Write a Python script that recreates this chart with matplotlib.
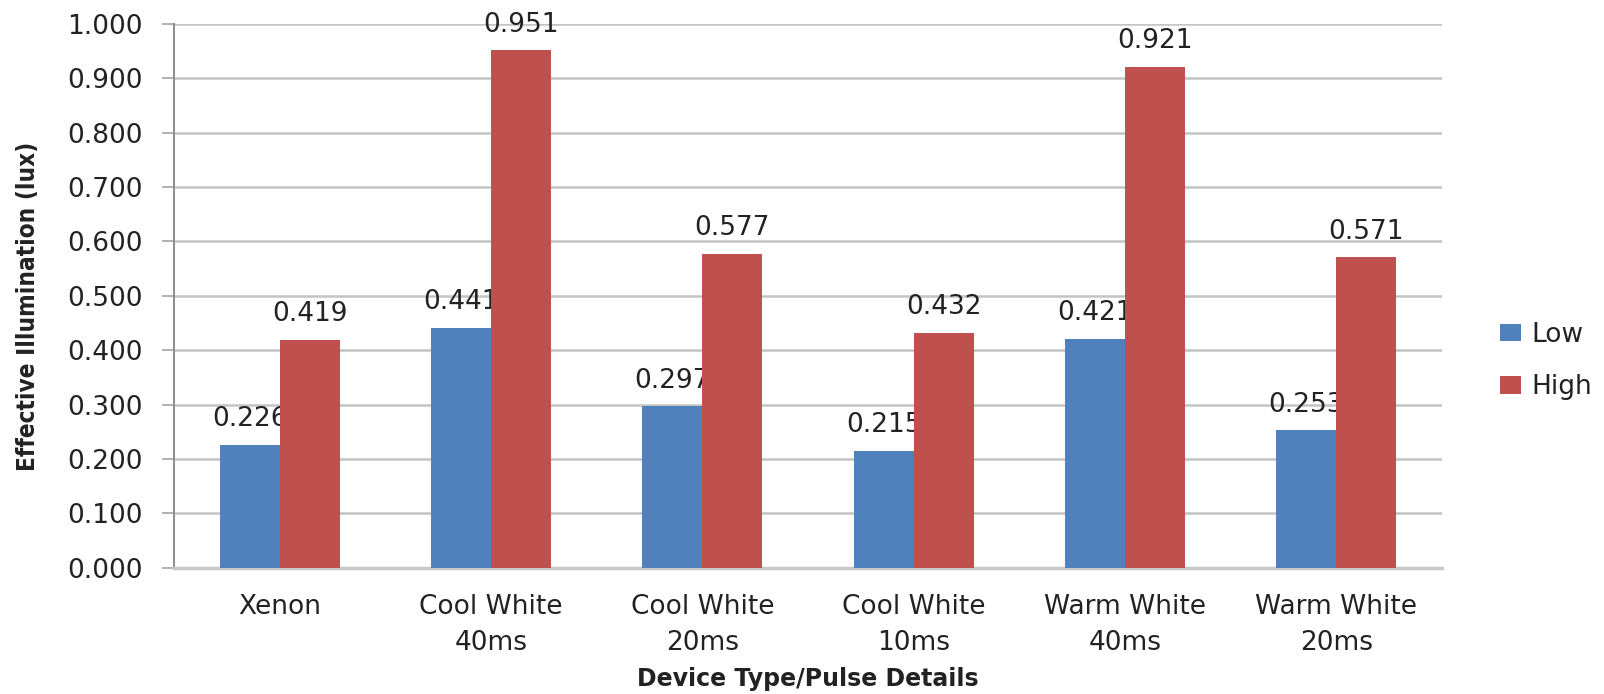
import numpy as np
import matplotlib
matplotlib.use("Agg")
import matplotlib.pyplot as plt

categories = ["Xenon", "Cool White\n40ms", "Cool White\n20ms", "Cool White\n10ms",
              "Warm White\n40ms", "Warm White\n20ms"]
low = [0.226, 0.441, 0.297, 0.215, 0.421, 0.253]
high = [0.419, 0.951, 0.577, 0.432, 0.921, 0.571]
yticks = np.arange(0, 1.01, 0.1)

blue = "#4F81BD"
red = "#C0504D"
txt = "#222222"

fig = plt.figure(figsize=(16.04, 6.94), dpi=100)
ax = fig.add_axes([0.1085, 0.182, 0.7905, 0.7838])

x = np.arange(len(categories))
w = 0.284
b1 = ax.bar(x - w/2, low, w, color=blue, zorder=3, label="Low")
b2 = ax.bar(x + w/2, high, w, color=red, zorder=3, label="High")

# value labels sit under the bars so the neighbouring red bar can cover them
for bars, vals in ((b1, low), (b2, high)):
    for r, v in zip(bars, vals):
        ax.annotate("%.3f" % v, (r.get_x() + r.get_width()/2, v),
                    xytext=(0, 9), textcoords="offset points",
                    ha="center", va="bottom", fontsize=19, color=txt,
                    zorder=2.5)

ax.set_xlim(-0.5, len(categories) - 0.5)
ax.set_ylim(0, 1.0)
ax.set_yticks(yticks)
ax.set_yticklabels(["%.3f" % t for t in yticks], fontsize=19, color=txt)
ax.set_xticks(x)
ax.set_xticklabels(categories, fontsize=19, color=txt, linespacing=1.5)

ax.grid(axis="y", color="#c4c4c4", lw=1.8, zorder=0)
ax.set_axisbelow(True)
for s in ("top", "right"):
    ax.spines[s].set_visible(False)
ax.spines["left"].set_color("#8c8c8c")
ax.spines["left"].set_linewidth(1.4)
ax.spines["bottom"].set_color("#c8c8c8")
ax.spines["bottom"].set_linewidth(2.5)
ax.tick_params(axis="y", length=8.6, width=1.4, color="#b0b0b0", pad=14)
ax.tick_params(axis="x", length=0, pad=19)

ax.set_xlabel("Device Type/Pulse Details", fontsize=17, fontweight="bold",
              color=txt, labelpad=8)
fig.text(0.0175, 0.558, "Effective Illumination (lux)", rotation=90,
         ha="center", va="center", fontsize=17.5, fontweight="bold",
         fontstretch="condensed", color=txt)

fig.legend(handles=[b1, b2], loc="center left", bbox_to_anchor=(0.935, 0.48),
           frameon=False, fontsize=19, borderpad=0, borderaxespad=0,
           handlelength=0.8, handleheight=0.65, handletextpad=0.4,
           labelspacing=1.0, labelcolor=txt)

fig.savefig("out.png", dpi=100)
